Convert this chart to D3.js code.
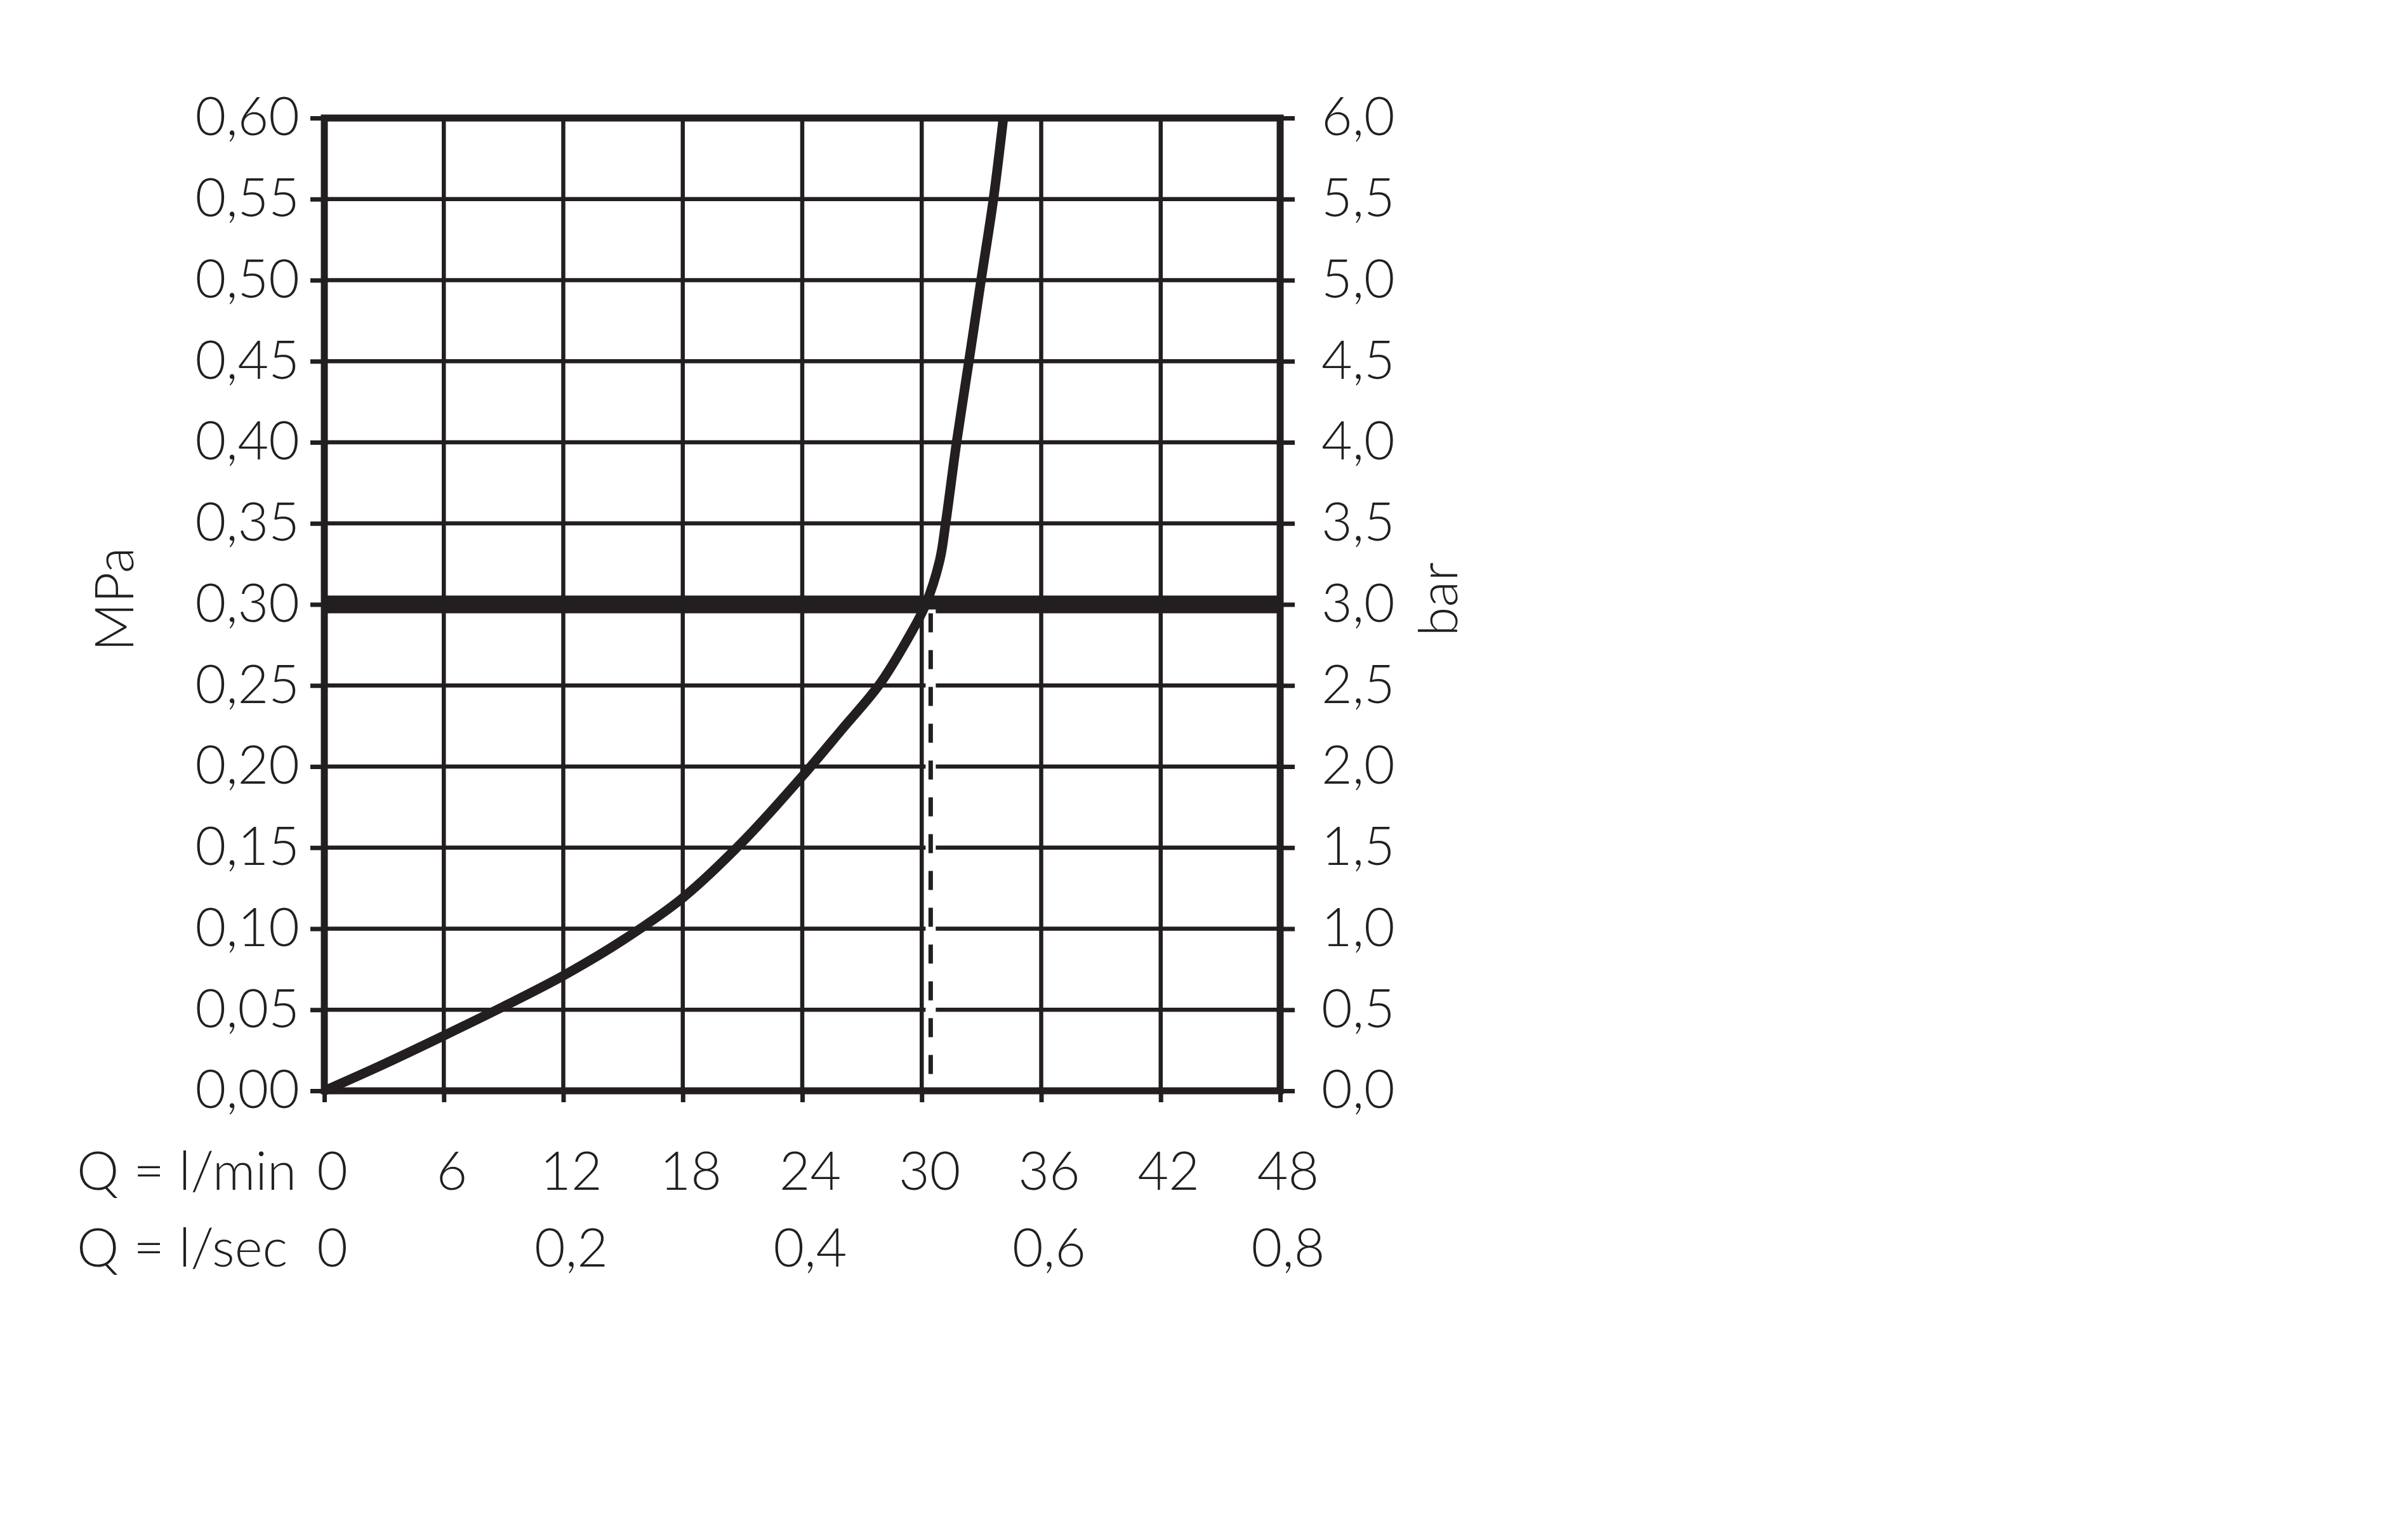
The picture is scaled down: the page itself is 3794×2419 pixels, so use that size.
<!DOCTYPE html>
<html>
<head>
<meta charset="utf-8">
<script src="https://cdn.jsdelivr.net/npm/d3@7/dist/d3.min.js"></script>
<style>
  html, body { margin: 0; padding: 0; background: #ffffff; }
  svg { display: block; }
  text { font-family: "Lato", "Open Sans", sans-serif; font-weight: 300; fill: #231f20; }
</style>
</head>
<body>
<svg id="chart" width="3794" height="2419"></svg>
<script>
// ---------- data ----------
const flowLpm     = [0, 3, 6, 9, 12, 15, 18, 21, 24, 26, 27.9, 29.4, 30.2, 30.9, 31.2, 31.75, 32.37, 32.98, 33.6, 34.1];
const pressureMPa = [0, 0.0165, 0.034, 0.052, 0.071, 0.093, 0.119, 0.1535, 0.194, 0.223, 0.251, 0.281, 0.30, 0.327, 0.35, 0.40, 0.45, 0.50, 0.55, 0.60];
const mpaTicks  = [0, 0.05, 0.10, 0.15, 0.20, 0.25, 0.30, 0.35, 0.40, 0.45, 0.50, 0.55, 0.60];
const barTicks  = [0, 0.5, 1.0, 1.5, 2.0, 2.5, 3.0, 3.5, 4.0, 4.5, 5.0, 5.5, 6.0];
const lpmTicks  = [0, 6, 12, 18, 24, 30, 36, 42, 48];
const lpsTicks  = [0, 0.2, 0.4, 0.6, 0.8];
const refPressure = 0.30;      // thick reference line (MPa)
const refFlow = 30.45;         // dashed drop line (l/min)
const yLabelLeft = "MPa";
const yLabelRight = "bar";
const xLabelMin = "Q = l/min";
const xLabelSec = "Q = l/sec";

// ---------- layout ----------
const L = 511, R = 2017, T = 186, B = 1719;
const ink = "#231f20";
const fs = 84;

const svg = d3.select("#chart");
const x = d3.scaleLinear().domain([0, 48]).range([L, R]);
const y = d3.scaleLinear().domain([0, 0.6]).range([B, T]);
const yBar = d3.scaleLinear().domain([0, 6]).range([B, T]);
const xSec = d3.scaleLinear().domain([0, 0.8]).range([L, R]);

const loc = d3.formatLocale({decimal: ",", thousands: ".", grouping: [3], currency: ["", ""]});
const f2 = loc.format(".2f"), f1 = loc.format(".1f"), f0 = loc.format("d");

// grid
const grid = svg.append("g");
grid.selectAll(".gh").data(mpaTicks).join("line")
  .attr("x1", L).attr("x2", R).attr("y1", d => y(d)).attr("y2", d => y(d))
  .attr("stroke", ink).attr("stroke-width", 6.5);
grid.selectAll(".gv").data(lpmTicks).join("line")
  .attr("x1", d => x(d)).attr("x2", d => x(d)).attr("y1", T).attr("y2", B)
  .attr("stroke", ink).attr("stroke-width", 6.5);

// thick reference line
svg.append("line")
  .attr("x1", L).attr("x2", R).attr("y1", y(refPressure)).attr("y2", y(refPressure))
  .attr("stroke", ink).attr("stroke-width", 28);

// dashed drop line with white knockout
svg.append("line")
  .attr("x1", x(refFlow)).attr("x2", x(refFlow)).attr("y1", y(refPressure) + 8).attr("y2", B - 6)
  .attr("stroke", "#ffffff").attr("stroke-width", 16);
svg.append("line")
  .attr("x1", x(refFlow)).attr("x2", x(refFlow)).attr("y1", y(refPressure) + 14).attr("y2", B - 6)
  .attr("stroke", ink).attr("stroke-width", 7).attr("stroke-dasharray", "30,28");

// frame
svg.append("rect").attr("x", L).attr("y", T).attr("width", R - L).attr("height", B - T)
  .attr("fill", "none").attr("stroke", ink).attr("stroke-width", 11);

// curve
const pts = flowLpm.map((q, i) => [q, pressureMPa[i]]);
svg.append("path").datum(pts)
  .attr("fill", "none").attr("stroke", ink).attr("stroke-width", 15).attr("stroke-linejoin", "round")
  .attr("d", d3.line().x(d => x(d[0])).y(d => y(d[1])).curve(d3.curveCatmullRom.alpha(0.5)));

// axes
function styleAxis(g) {
  g.select(".domain").remove();
  g.selectAll(".tick line").attr("stroke", ink).attr("stroke-width", 7);
  g.selectAll(".tick text").attr("font-size", fs).attr("fill", ink)
    .attr("font-family", "Lato, 'Open Sans', sans-serif").attr("font-weight", 300);
}
svg.append("g").attr("transform", `translate(${L},0)`)
  .call(d3.axisLeft(y).tickValues(mpaTicks).tickFormat(f2).tickSize(22).tickPadding(17))
  .call(styleAxis);
svg.append("g").attr("transform", `translate(${R},0)`)
  .call(d3.axisRight(yBar).tickValues(barTicks).tickFormat(f1).tickSize(23).tickPadding(42))
  .call(styleAxis);
const gx = svg.append("g").attr("transform", `translate(0,${B})`)
  .call(d3.axisBottom(x).tickValues(lpmTicks).tickFormat(f0).tickSize(18).tickPadding(78))
  .call(styleAxis);
gx.selectAll(".tick text").attr("dx", 12);
const gs = svg.append("g").attr("transform", `translate(0,${B})`)
  .call(d3.axisBottom(xSec).tickValues(lpsTicks).tickFormat(d => d === 0 ? "0" : f1(d)).tickSize(0).tickPadding(217))
  .call(styleAxis);
gs.selectAll(".tick line").remove();
gs.selectAll(".tick text").attr("dx", 12);

// row labels
svg.append("text").attr("x", 121).attr("y", B + 96).attr("dy", "0.71em")
  .attr("text-anchor", "start").attr("font-size", fs).text(xLabelMin);
svg.append("text").attr("x", 121).attr("y", B + 217).attr("dy", "0.71em")
  .attr("text-anchor", "start").attr("font-size", fs).text(xLabelSec);

// axis titles
svg.append("text").attr("transform", `translate(181,${(T + B) / 2 - 8}) rotate(-90)`)
  .attr("text-anchor", "middle").attr("dy", "0.35em").attr("font-size", fs).text(yLabelLeft);
svg.append("text").attr("transform", `translate(2267,${(T + B) / 2 - 8}) rotate(-90)`)
  .attr("text-anchor", "middle").attr("dy", "0.35em").attr("font-size", fs).text(yLabelRight);
</script>
</body>
</html>
